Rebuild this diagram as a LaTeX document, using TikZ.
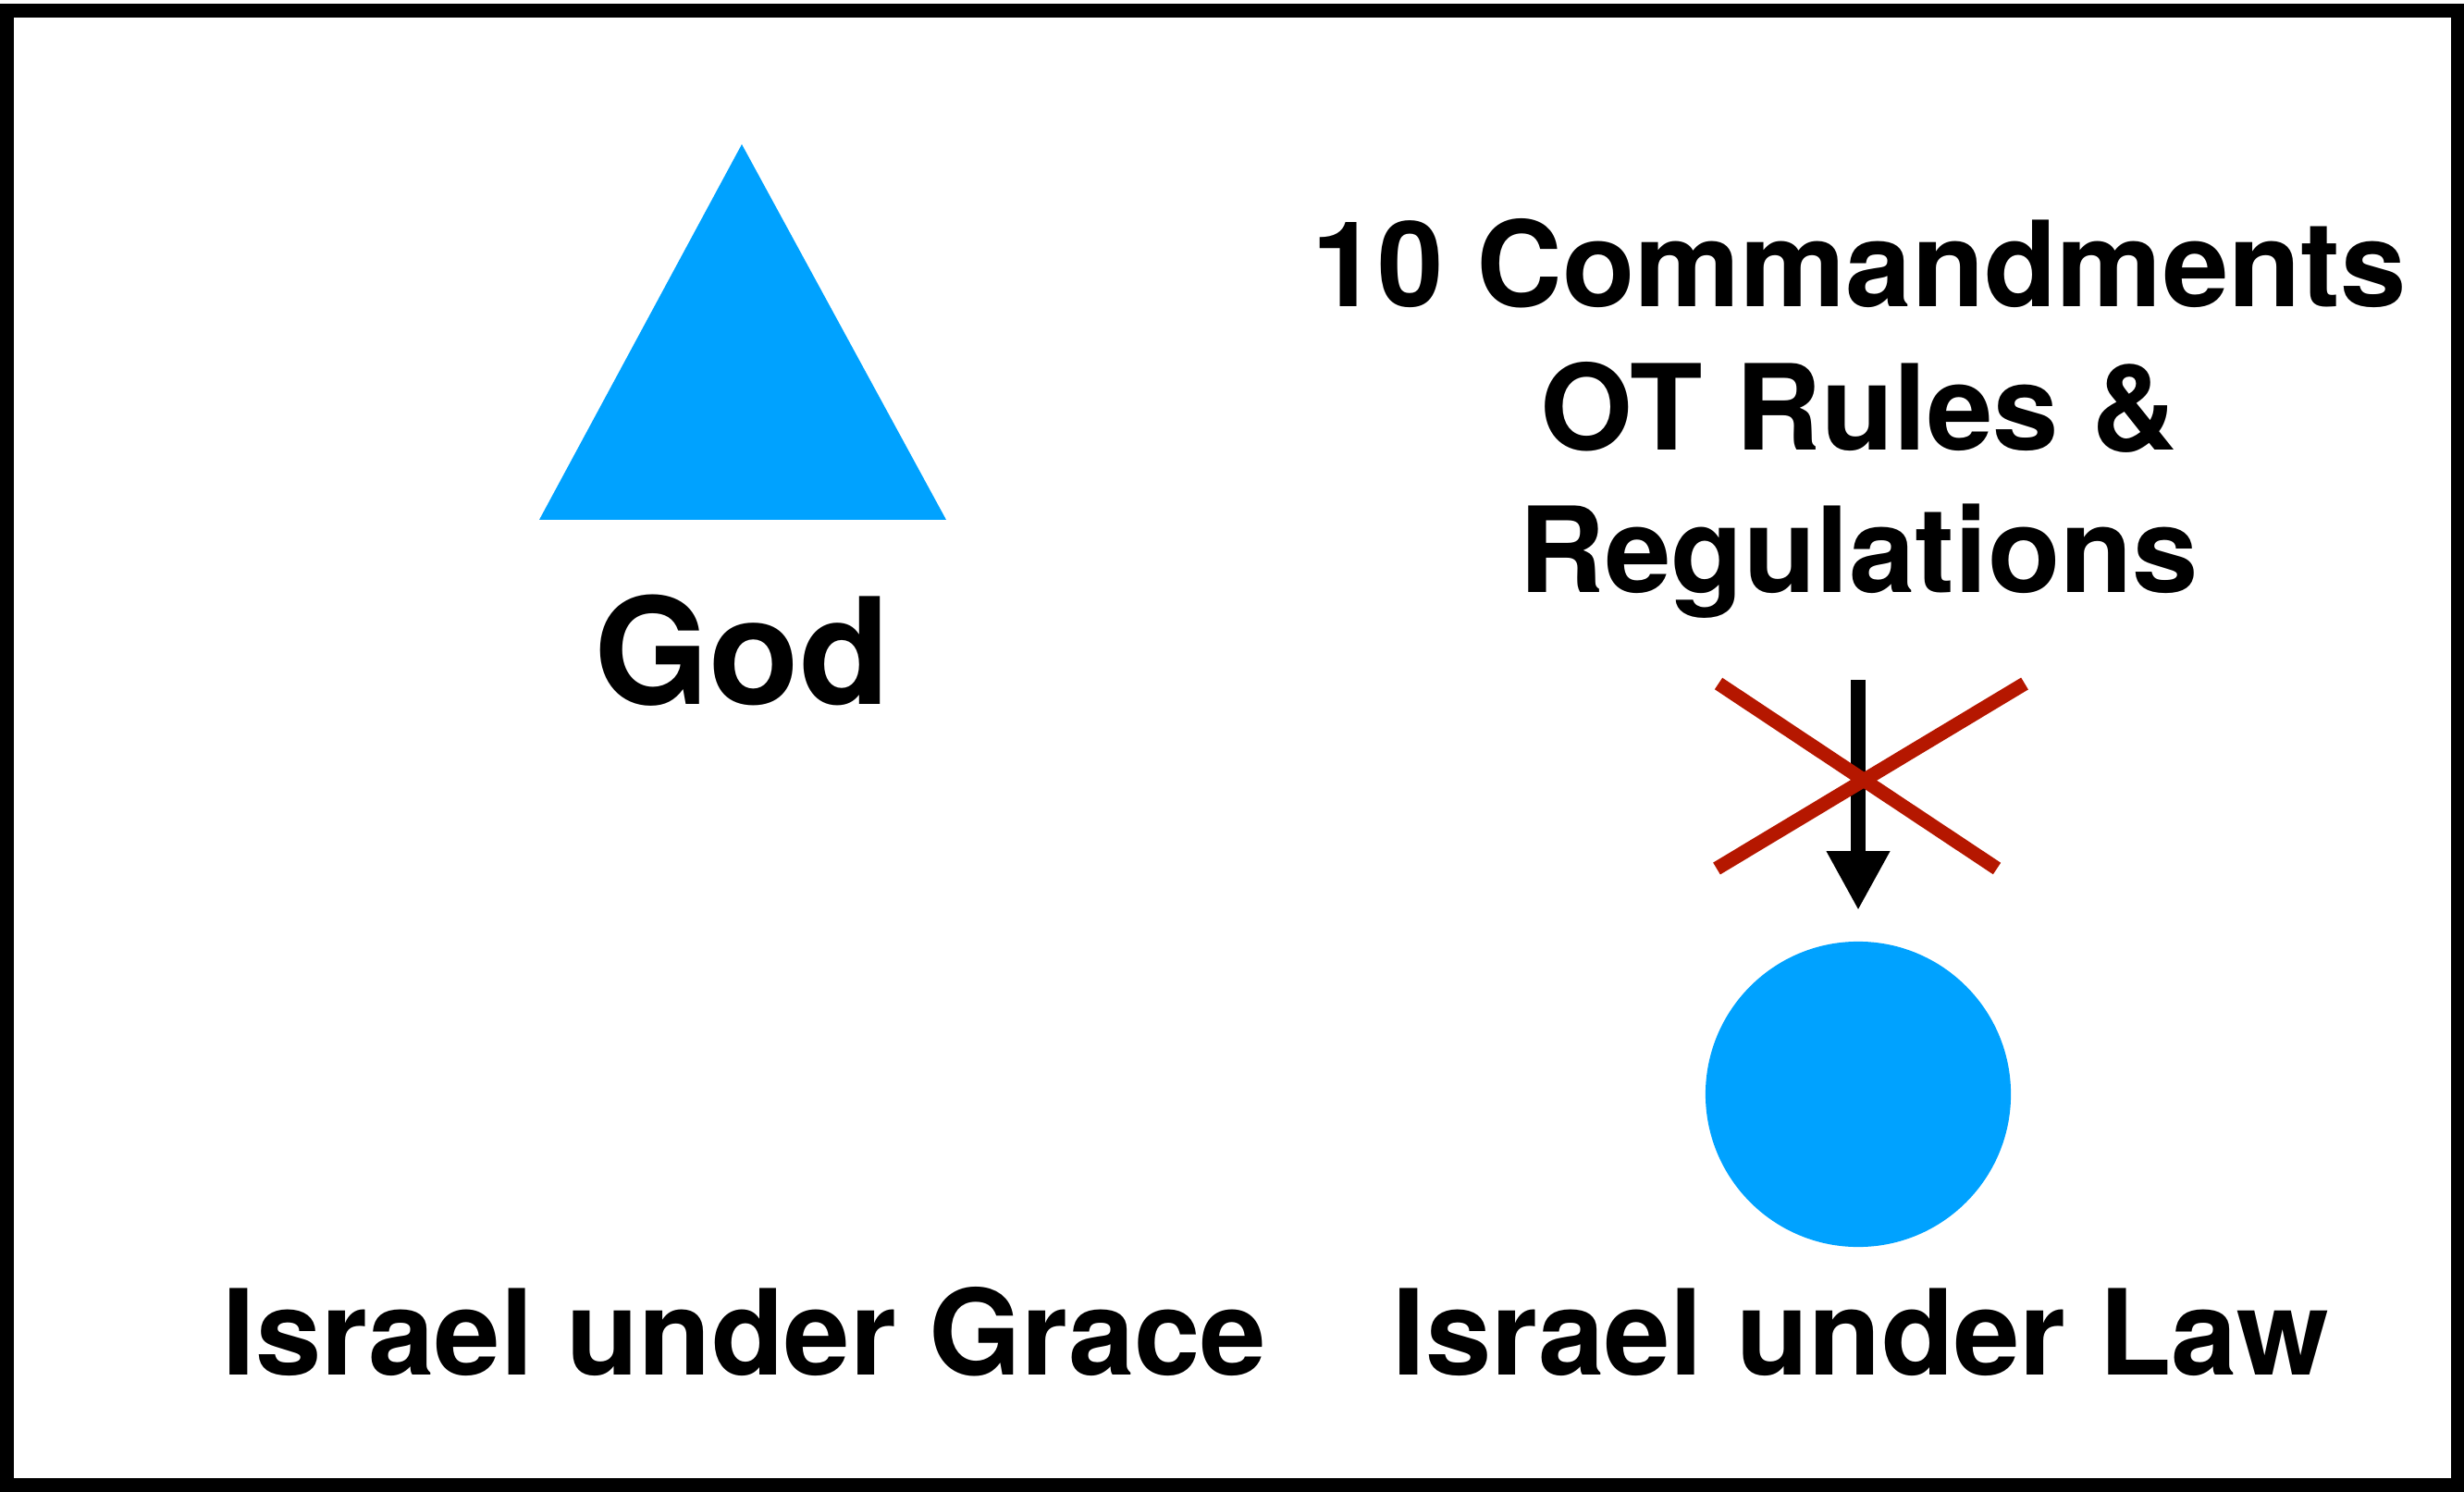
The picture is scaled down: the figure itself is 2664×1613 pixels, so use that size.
\documentclass[tikz,border=0pt]{standalone}
\usepackage{fontspec}
\setmainfont{TeX Gyre Heros}
\usetikzlibrary{arrows.meta}
\definecolor{skyblue}{RGB}{0,162,255}
\definecolor{crossred}{RGB}{181,23,0}
\begin{document}
\begin{tikzpicture}[x=0.01cm, y=-0.01cm,
    words/.style={font=\fontsize{36.5}{44}\selectfont\bfseries, anchor=base, inner sep=0},
    redline/.style={crossred, line width=0.15cm}]
    \useasboundingbox (0,0) rectangle (2664,1613);
    \draw[line width=0.15cm] (7,12) rectangle (2657,1605);
    % God
    \fill[skyblue] (802,156) -- (1023,562) -- (583,562) -- cycle;
    \node[words, font=\fontsize{45.5}{54}\selectfont\bfseries] (god) at (802,762) {God};
    % the law
    \node[words] (law1) at (2010,332) {10 Commandments};
    \node[words] (law2) at (2010,487) {OT Rules \&};
    \node[words] (law3) at (2010,641) {Regulations};
    \node[circle, fill=skyblue, minimum size=3.3cm, inner sep=0] (israel) at (2009,1183) {};
    \coordinate (from) at (2009,735);
    \draw[line width=0.16cm, -{Triangle[width=0.64cm, length=0.64cm]}, shorten >=0.33cm] (from) -- (israel.north);
    \draw[redline] (1858,739) -- (2159,939);
    \draw[redline] (2189,739) -- (1856,939);
    % bottom names
    \node[words] (grace) at (805,1486) {Israel under Grace};
    \node[words] (lawname) at (2012,1486) {Israel under Law};
\end{tikzpicture}
\end{document}
